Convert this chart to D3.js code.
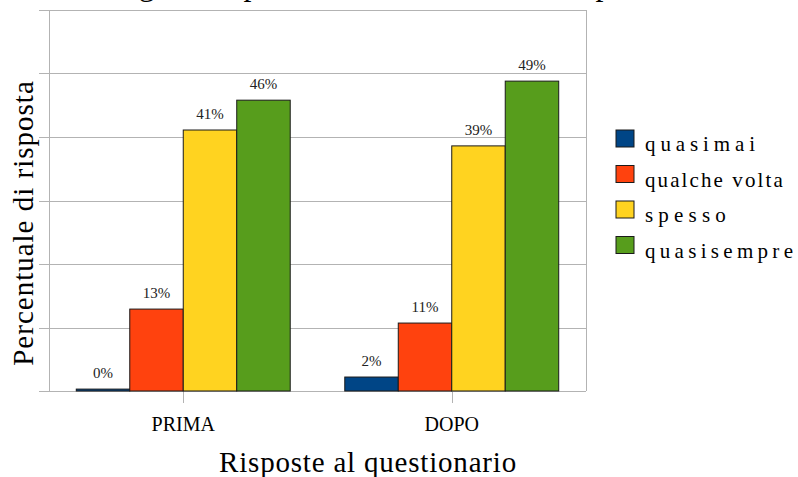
<html>
<head>
  <meta charset="utf-8">
  <title>risposte</title>
  <script src="https://d3js.org/d3.v7.min.js"></script>
  <style>
    body { margin: 0; background: #fff; }
    text { font-family: "Liberation Serif", "Times New Roman", serif; fill: #000; }
  </style>
</head>
<body>
<script>
// data
var categories = ["PRIMA", "DOPO"];
var series = ["quasimai", "qualche volta", "spesso", "quasisempre"];
var valuesPrima = [0.3, 12.9, 41.1, 45.8];
var valuesDopo = [2.2, 10.7, 38.6, 48.8];
var yTicks = [0, 10, 20, 30, 40, 50, 60];
var title = "Svolgi i compiti a casa con attenzione e puntualità?";
var xTitle = "Risposte al questionario";
var yTitle = "Percentuale di risposta";

var colors = ["#004586", "#ff420e", "#ffd320", "#579d1c"];
var legendSpacing = [4.9, 2.1, 5.2, 4.3];
var serif = "'Liberation Serif', 'Times New Roman', serif";

var width = 798, height = 477;
var plot = {left: 49, right: 586, top: 10, bottom: 391};

var rows = categories.map(function(c, i) {
  var vals = i === 0 ? valuesPrima : valuesDopo;
  return {cat: c, values: vals.map(function(v, j) { return {key: series[j], value: v, idx: j}; })};
});

var svg = d3.select("body").append("svg")
  .attr("width", width).attr("height", height);

var y = d3.scaleLinear().domain([0, 60]).range([plot.bottom, plot.top]);
var x0 = d3.scaleBand().domain(categories).range([plot.left, plot.right]);
var x1 = d3.scaleBand().domain(series).range([0, x0.bandwidth()])
  .paddingInner(0).paddingOuter(0.51);

// title, mostly above the visible area (only descenders show)
svg.append("text")
  .attr("x", 80).attr("y", -5)
  .style("font-family", serif)
  .style("font-size", "32px")
  .text(title);

// gridlines with outside ticks
svg.append("g").selectAll("line")
  .data(yTicks)
  .enter().append("line")
  .attr("x1", plot.left - 10).attr("x2", plot.right)
  .attr("y1", function(d){ return Math.round(y(d)) + 0.5; })
  .attr("y2", function(d){ return Math.round(y(d)) + 0.5; })
  .attr("stroke", "#b3b3b3").attr("stroke-width", 1);

// frame sides
svg.append("line")
  .attr("x1", plot.left + 0.5).attr("x2", plot.left + 0.5)
  .attr("y1", plot.top).attr("y2", plot.bottom)
  .attr("stroke", "#b3b3b3");
svg.append("line")
  .attr("x1", plot.right + 0.5).attr("x2", plot.right + 0.5)
  .attr("y1", plot.top).attr("y2", plot.bottom)
  .attr("stroke", "#b3b3b3");

// x ticks at category centres
svg.append("g").selectAll("line")
  .data(categories)
  .enter().append("line")
  .attr("x1", function(d){ return Math.round(x0(d) + x0.bandwidth() / 2) + 0.5; })
  .attr("x2", function(d){ return Math.round(x0(d) + x0.bandwidth() / 2) + 0.5; })
  .attr("y1", plot.bottom).attr("y2", plot.bottom + 12)
  .attr("stroke", "#b3b3b3");

// bars
var g = svg.selectAll(".grp")
  .data(rows)
  .enter().append("g")
  .attr("class", "grp")
  .attr("transform", function(d){ return "translate(" + x0(d.cat) + ",0)"; });

g.selectAll("rect")
  .data(function(d){ return d.values; })
  .enter().append("rect")
  .attr("x", function(d){ return x1(d.key); })
  .attr("y", function(d){ return y(d.value); })
  .attr("width", x1.bandwidth())
  .attr("height", function(d){ return y(0) - y(d.value); })
  .attr("fill", function(d){ return colors[d.idx]; })
  .attr("stroke", "#1a1a1a").attr("stroke-width", 1);

g.selectAll("text")
  .data(function(d){ return d.values; })
  .enter().append("text")
  .attr("x", function(d){ return x1(d.key) + x1.bandwidth() / 2; })
  .attr("y", function(d){ return y(d.value) - 11; })
  .attr("text-anchor", "middle")
  .style("font-family", serif)
  .style("font-size", "15px")
  .style("fill", "#222")
  .text(function(d){ return Math.round(d.value) + "%"; });

// category labels
svg.append("g").selectAll("text")
  .data(categories)
  .enter().append("text")
  .attr("x", function(d){ return x0(d) + x0.bandwidth() / 2; })
  .attr("y", 431)
  .attr("text-anchor", "middle")
  .style("font-family", serif)
  .style("font-size", "20px")
  .text(function(d){ return d; });

// axis titles
svg.append("text")
  .attr("x", 368).attr("y", 472)
  .attr("text-anchor", "middle")
  .style("font-family", serif)
  .style("font-size", "29px")
  .style("letter-spacing", "0.8px")
  .text(xTitle);

svg.append("text")
  .attr("transform", "translate(33,223) rotate(-90)")
  .attr("text-anchor", "middle")
  .style("font-family", serif)
  .style("font-size", "29px")
  .style("letter-spacing", "1px")
  .text(yTitle);

// legend
var leg = svg.selectAll(".leg")
  .data(series)
  .enter().append("g")
  .attr("class", "leg")
  .attr("transform", function(d, i){ return "translate(616," + (130 + i * 35.5) + ")"; });

leg.append("rect")
  .attr("width", 18).attr("height", 17)
  .attr("fill", function(d, i){ return colors[i]; })
  .attr("stroke", "#1a1a1a");

leg.append("text")
  .attr("x", 29).attr("y", 21)
  .style("font-family", serif)
  .style("font-size", "21px")
  .style("letter-spacing", function(d, i){ return legendSpacing[i] + "px"; })
  .text(function(d){ return d; });
</script>
</body>
</html>
